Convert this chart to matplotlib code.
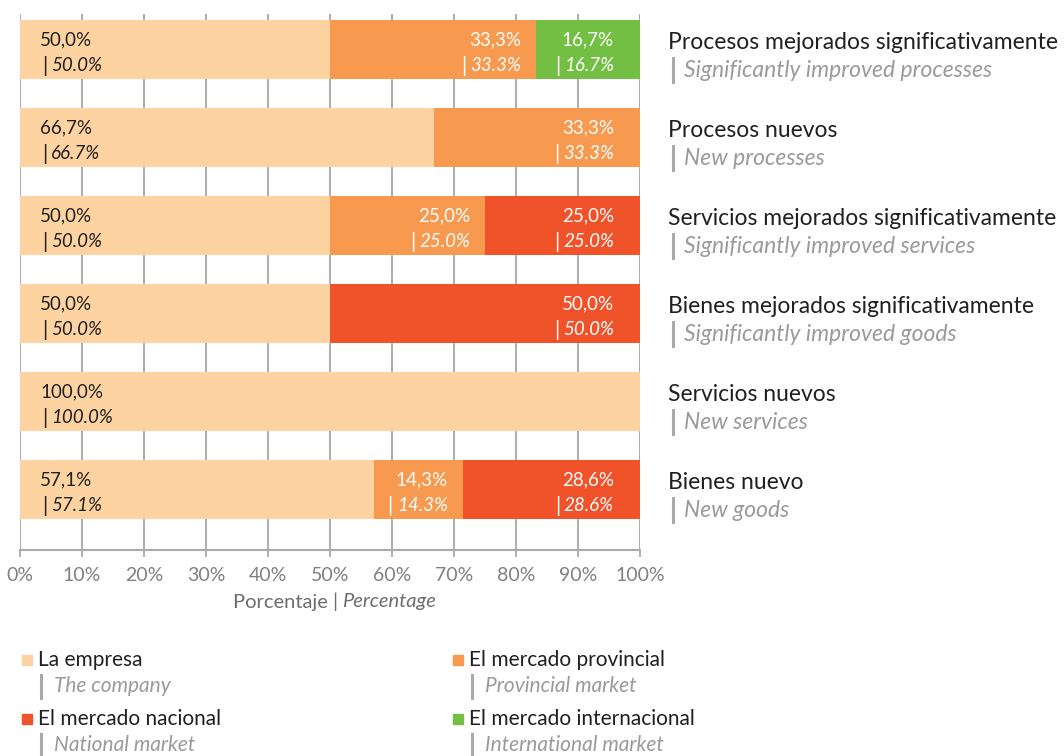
import numpy as np
import matplotlib
matplotlib.use("Agg")
import matplotlib.pyplot as plt
from matplotlib.lines import Line2D
from matplotlib.patches import Rectangle
from matplotlib.transforms import offset_copy

plt.rcParams['font.family'] = ['Lato', 'DejaVu Sans']

# datos
categorias = ["Procesos mejorados significativamente", "Procesos nuevos",
              "Servicios mejorados significativamente", "Bienes mejorados significativamente",
              "Servicios nuevos", "Bienes nuevo"]
categorias_en = ["Significantly improved processes", "New processes",
                 "Significantly improved services", "Significantly improved goods",
                 "New services", "New goods"]
la_empresa = [50.0, 66.7, 50.0, 50.0, 100.0, 57.1]
provincial = [33.3, 33.3, 25.0, 0.0, 0.0, 14.3]
nacional = [0.0, 0.0, 25.0, 50.0, 0.0, 28.6]
internacional = [16.7, 0.0, 0.0, 0.0, 0.0, 0.0]
series_es = ["La empresa", "El mercado provincial", "El mercado nacional", "El mercado internacional"]
series_en = ["The company", "Provincial market", "National market", "International market"]
colores = ["#fcd3a1", "#f79a4f", "#f0522a", "#72bf44"]
ticks = np.arange(0, 101, 10)

OSCURO = "#231f20"
GRIS = "#9a9a9a"

W, H = 1064, 756
fig = plt.figure(figsize=(W / 100, H / 100), dpi=100)
ax = fig.add_axes([20 / W, 1 - 550 / H, 620 / W, 536 / H])

y = np.arange(len(categorias))
izq = np.zeros(len(categorias))
for k, (vals, col) in enumerate(zip([la_empresa, provincial, nacional, internacional], colores)):
    vals = np.array(vals)
    ax.barh(y, vals, left=izq, height=0.68, color=col, zorder=2)
    for i, v in enumerate(vals):
        if v <= 0:
            continue
        tc = OSCURO if k == 0 else "white"
        if k == 0:
            x, ha, dx1, dx2 = izq[i], 'left', 20, 31
        else:
            fin = izq[i] + v
            pad = 26 if fin >= 99.9 else 15
            x, ha, dx1, dx2 = fin, 'right', -pad, -pad
        ax.annotate(f"{v:.1f}".replace('.', ',') + "%", xy=(x, i), xytext=(dx1, 10),
                    textcoords='offset pixels', ha=ha, va='center', fontsize=13.5,
                    color=tc, zorder=3)
        t2 = ax.annotate(f"{v:.1f}%", xy=(x, i), xytext=(dx2, -16),
                         textcoords='offset pixels', ha=ha, va='center', fontsize=13.5,
                         style='italic', color=tc, zorder=3)
        ax.annotate("|", xy=(0, 0.5), xycoords=t2, xytext=(-4, -1),
                    textcoords='offset pixels', ha='right', va='center',
                    fontsize=15, color=tc, zorder=3)
    izq += vals

# etiquetas de categorias a la derecha
tr = ax.get_yaxis_transform()
for i, (es, en) in enumerate(zip(categorias, categorias_en)):
    ax.annotate(es, xy=(1, i), xycoords=tr, xytext=(28, 7), textcoords='offset pixels',
                ha='left', va='center', fontsize=16.5, color=OSCURO, annotation_clip=False)
    ax.annotate(en, xy=(1, i), xycoords=tr, xytext=(44, -21), textcoords='offset pixels',
                ha='left', va='center', fontsize=16.5, style='italic', color=GRIS,
                annotation_clip=False)
    ax.plot([1, 1], [i + 9 / 88, i + 33 / 88], color="#aaaaaa", lw=2.2, clip_on=False,
            transform=offset_copy(tr, fig=fig, x=33, y=0, units='dots'))

ax.set_xlim(0, 100)
ax.set_ylim(5.688, -0.403)
ax.set_yticks([])
ax.set_xticks(ticks)
ax.set_xticklabels([f"{t}%" for t in ticks], color="#808080", fontsize=14)
ax.tick_params(axis='x', length=5, width=1.3, color="#aaaaaa", pad=7)
ax.grid(axis='x', color="#b0b0b0", lw=1.5, zorder=0)
for s in ['top', 'right', 'left']:
    ax.spines[s].set_visible(False)
ax.spines['bottom'].set_color("#aaaaaa")
ax.spines['bottom'].set_linewidth(1.5)

# titulo eje x
fig.text(338 / W, 1 - 602 / H, "Porcentaje |", ha='right', va='center', fontsize=14.5, color="#6d6d6d")
fig.text(342 / W, 1 - 602 / H, "Percentage", ha='left', va='center', fontsize=14.5,
         style='italic', color="#6d6d6d")

# leyenda
pos = [(22, 660), (453, 660), (22, 719), (453, 719)]
for (px, py), es, en, col in zip(pos, series_es, series_en, colores):
    fig.add_artist(Rectangle((px / W, 1 - (py + 5) / H), 10 / W, 10 / H, color=col,
                             transform=fig.transFigure))
    fig.text((px + 16) / W, 1 - py / H, es, ha='left', va='center', fontsize=15, color=OSCURO)
    fig.text((px + 32) / W, 1 - (py + 26) / H, en, ha='left', va='center', fontsize=15,
             style='italic', color=GRIS)
    fig.add_artist(Line2D([(px + 19) / W] * 2, [1 - (py + 15) / H, 1 - (py + 38) / H],
                          color="#aaaaaa", lw=2.2, transform=fig.transFigure))

fig.savefig("out.png", dpi=100)
